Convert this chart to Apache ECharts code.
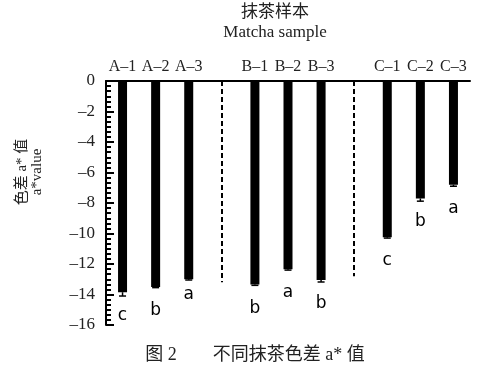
<!DOCTYPE html>
<html>
<head>
<meta charset="utf-8">
<script src="https://cdn.jsdelivr.net/npm/echarts@6/dist/echarts.min.js"></script>
<style>
html,body{margin:0;padding:0;background:#fff;}
#main{width:492px;height:377px;}
</style>
</head>
<body>
<div id="main"></div>
<script>
// 样本分类（空位为虚线分隔处）
var categories = ['A–1', 'A–2', 'A–3', ' ', 'B–1', 'B–2', 'B–3', '  ', 'C–1', 'C–2', 'C–3'];
// 色差 a* 值
var aValues = [-13.85, -13.5, -13.0, null, -13.35, -12.35, -13.05, null, -10.25, -7.7, -6.8];
// 标准差
var errValues = [0.25, 0.05, 0.05, null, 0.05, 0.05, 0.13, null, 0.05, 0.18, 0.1];
// 显著性字母
var sigLetters = ['c', 'b', 'a', '', 'b', 'a', 'b', '', 'c', 'b', 'a'];
// 分隔虚线：[位置, 下端值]
var dividerIdx = [3, 7];
var dividerEnd = [-13.2, -12.8];

var serif = "'Liberation Serif', 'Noto Sans CJK SC'";
var chart = echarts.init(document.getElementById('main'));

var barData = [];
for (var i = 0; i < aValues.length; i++) {
	var item = {value: aValues[i]};
	if (i == 2) {
		item.label = {distance: 7}; //A-3 的字母离柱子更近
	}
	barData.push(item);
}

var errData = [];
for (var j = 0; j < aValues.length; j++) {
	if (aValues[j] != null) {
		errData.push([j, aValues[j], errValues[j]]);
	}
}

var markLines = [];
for (var k = 0; k < dividerIdx.length; k++) {
	markLines.push([{coord: [dividerIdx[k], 0]}, {coord: [dividerIdx[k], dividerEnd[k]]}]);
}

var option = {
	animation: false,
	title: [{
		text: '抹茶样本\nMatcha sample',
		left: 270,
		top: -2,
		textAlign: 'center',
		textStyle: {fontFamily: serif, fontSize: 17, fontWeight: 'normal', color: '#222', lineHeight: 20}
	}, {
		text: '图 2　　不同抹茶色差 a* 值',
		left: 250,
		top: 341,
		textAlign: 'center',
		textStyle: {fontFamily: serif, fontSize: 18, fontWeight: 'normal', color: '#222'}
	}],
	graphic: [{
		type: 'text',
		x: 30,
		y: 172,
		rotation: Math.PI / 2,
		style: {
			text: '色差 a* 值\na*value',
			font: "15px 'Liberation Serif', 'Noto Sans CJK SC'",
			fill: '#222',
			align: 'center',
			verticalAlign: 'middle',
			lineHeight: 15
		}
	}],
	grid: {left: 106, right: 22, top: 81, bottom: 52},
	xAxis: {
		type: 'category',
		position: 'top',
		data: categories,
		axisLine: {lineStyle: {color: '#000', width: 2}},
		axisTick: {show: false},
		axisLabel: {fontFamily: serif, fontSize: 16, color: '#222', margin: 6, interval: 0}
	},
	yAxis: {
		type: 'value',
		min: -16,
		max: 0,
		interval: 2,
		axisLine: {show: true, lineStyle: {color: '#000', width: 2}},
		axisTick: {show: true, inside: true, length: 8, lineStyle: {color: '#000', width: 2}},
		minorTick: {show: true, splitNumber: 6, length: 5, lineStyle: {color: '#000', width: 2}},
		splitLine: {show: false},
		axisLabel: {
			fontFamily: serif, fontSize: 17, color: '#222', margin: 11,
			formatter: function (v) {
				return String(v).replace('-', '–');
			}
		}
	},
	series: [{
		type: 'bar',
		data: barData,
		barWidth: 9,
		itemStyle: {color: '#000'},
		label: {
			show: true,
			position: 'bottom',
			distance: 15,
			fontFamily: 'DejaVu Sans',
			fontSize: 17,
			color: '#000',
			formatter: function (p) {
				return sigLetters[p.dataIndex];
			}
		},
		markLine: {
			symbol: 'none',
			silent: true,
			label: {show: false},
			lineStyle: {color: '#000', width: 2, type: [5, 3]},
			data: markLines
		}
	}, {
		type: 'custom',
		data: errData,
		z: 3,
		renderItem: function (params, api) {
			var x = api.value(0);
			var v = api.value(1);
			var e = api.value(2);
			var p1 = api.coord([x, v]);
			var p2 = api.coord([x, v - e]);
			return {
				type: 'group',
				children: [{
					type: 'line',
					shape: {x1: p1[0], y1: p1[1], x2: p2[0], y2: p2[1]},
					style: {stroke: '#000', lineWidth: 1.5}
				}, {
					type: 'line',
					shape: {x1: p2[0] - 3.5, y1: p2[1], x2: p2[0] + 3.5, y2: p2[1]},
					style: {stroke: '#000', lineWidth: 1.5}
				}]
			};
		}
	}]
};
chart.setOption(option);
</script>
</body>
</html>
